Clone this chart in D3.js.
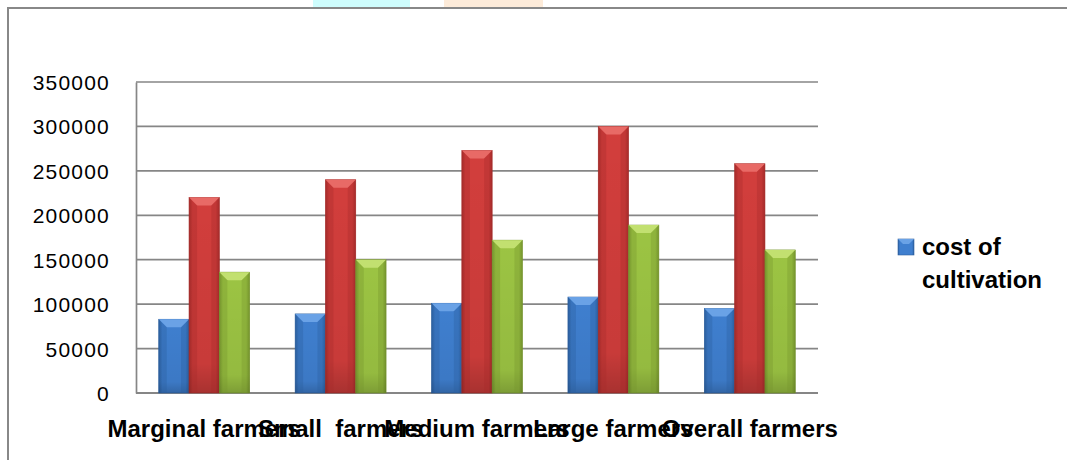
<!DOCTYPE html>
<html>
<head>
  <meta charset="UTF-8">
  <title>Cost of cultivation by farmer group</title>
  <script src="https://d3js.org/d3.v7.min.js"></script>
  <style>
    body {
      margin: 0;
      padding: 0;
      background-color: #ffffff;
    }
    svg text {
      font-family: 'Liberation Sans', Arial, sans-serif;
      fill: #000;
    }
    .y-axis text {
      font-size: 21px;
      letter-spacing: 1.2px;
    }
    .x-label {
      font-size: 24px;
      font-weight: bold;
    }
    .legend text {
      font-size: 24px;
      font-weight: bold;
    }
  </style>
</head>
<body>
  <svg id="chart"></svg>
  <script>
    const categories = ["Marginal farmers", "Small  farmers", "Medium farmers", "Large farmers", "Overall farmers"];
    const seriesNames = ["cost of cultivation", "gross returns", "net returns"];
    const costValues = [83000, 89000, 101000, 108000, 95000];
    const grossValues = [220000, 240000, 273000, 300000, 258000];
    const netValues = [136000, 150000, 172000, 189000, 161000];
    const yTicks = [0, 50000, 100000, 150000, 200000, 250000, 300000, 350000];

    const W = 1067, H = 460;
    const plot = { left: 136, right: 818, top: 82, bottom: 393 };

    const svg = d3.select("#chart")
      .attr("width", W)
      .attr("height", H);

    // colour definitions: base, light, dark for each series
    const palette = [
      { base: "#3f7fcf", light: "#6aa2e6", dark: "#2c5f9e" },
      { base: "#d23e3c", light: "#e86a66", dark: "#a52c2a" },
      { base: "#9cc443", light: "#c2e070", dark: "#76952e" }
    ];

    const defs = svg.append("defs");
    palette.forEach(function(p, i) {
      const g = defs.append("linearGradient")
        .attr("id", "grad" + i)
        .attr("x1", "0").attr("x2", "1").attr("y1", "0").attr("y2", "0");
      g.append("stop").attr("offset", "0%").attr("stop-color", p.dark);
      g.append("stop").attr("offset", "12%").attr("stop-color", p.base);
      g.append("stop").attr("offset", "50%").attr("stop-color", p.base);
      g.append("stop").attr("offset", "88%").attr("stop-color", p.base);
      g.append("stop").attr("offset", "100%").attr("stop-color", p.dark);
      const v = defs.append("linearGradient")
        .attr("id", "shade" + i)
        .attr("x1", "0").attr("x2", "0").attr("y1", "0").attr("y2", "1");
      v.append("stop").attr("offset", "0%").attr("stop-color", "#000").attr("stop-opacity", 0);
      v.append("stop").attr("offset", "85%").attr("stop-color", "#000").attr("stop-opacity", 0.05);
      v.append("stop").attr("offset", "100%").attr("stop-color", "#000").attr("stop-opacity", 0.2);
    });

    // faint artefacts along the top edge of the source picture
    svg.append("rect").attr("x", 313).attr("y", 0).attr("width", 97).attr("height", 7).attr("fill", "#cefdfd");
    svg.append("rect").attr("x", 444).attr("y", 0).attr("width", 99).attr("height", 7).attr("fill", "#fdebd9");

    // chart frame
    svg.append("rect")
      .attr("x", 8).attr("y", 8)
      .attr("width", W + 20).attr("height", H + 20)
      .attr("fill", "none")
      .attr("stroke", "#888")
      .attr("stroke-width", 2);

    const y = d3.scaleLinear()
      .domain([0, 350000])
      .range([plot.bottom, plot.top]);

    const x0 = d3.scaleBand()
      .domain(categories)
      .range([plot.left, plot.right])
      .padding(0);

    const x1 = d3.scaleBand()
      .domain(seriesNames)
      .range([0, x0.bandwidth()])
      .paddingInner(0)
      .paddingOuter(0.75);

    // gridlines
    svg.append("g")
      .selectAll("line")
      .data(yTicks)
      .join("line")
      .attr("x1", plot.left)
      .attr("x2", plot.right)
      .attr("y1", d => y(d))
      .attr("y2", d => y(d))
      .attr("stroke", "#868686")
      .attr("stroke-width", d => d === 0 ? 2.2 : 1.7);

    // left axis
    const yAxis = svg.append("g")
      .attr("class", "y-axis")
      .attr("transform", `translate(${plot.left},0)`)
      .call(d3.axisLeft(y).tickValues(yTicks).tickSize(0).tickPadding(26).tickFormat(d3.format("d")));
    yAxis.select(".domain").attr("stroke", "#868686").attr("stroke-width", 1.7);
    yAxis.selectAll("text").attr("dy", "0.36em");

    const rows = categories.map(function(c, i) {
      return { cat: c, vals: [costValues[i], grossValues[i], netValues[i]] };
    });

    const groups = svg.append("g")
      .selectAll("g")
      .data(rows)
      .join("g")
      .attr("transform", d => `translate(${x0(d.cat)},0)`);

    const bw = x1.bandwidth();
    const bevel = 8;

    groups.each(function(row) {
      const g = d3.select(this);
      row.vals.forEach(function(v, i) {
        const bx = x1(seriesNames[i]);
        const top = y(v);
        const h = y(0) - top;
        g.append("rect")
          .attr("x", bx).attr("y", top)
          .attr("width", bw).attr("height", h)
          .attr("fill", `url(#grad${i})`)
          .attr("stroke", palette[i].dark)
          .attr("stroke-width", 0.6);
        g.append("rect")
          .attr("x", bx).attr("y", top)
          .attr("width", bw).attr("height", h)
          .attr("fill", `url(#shade${i})`);
        // bevel on top of the bar
        g.append("path")
          .attr("d", `M${bx},${top} L${bx + bw},${top} L${bx + bw - bevel},${top + bevel} L${bx + bevel},${top + bevel} Z`)
          .attr("fill", palette[i].light);
        g.append("path")
          .attr("d", `M${bx},${top} L${bx + bevel},${top + bevel} L${bx + bevel},${y(0)} L${bx},${y(0)} Z`)
          .attr("fill", palette[i].dark)
          .attr("opacity", 0.35);
        g.append("path")
          .attr("d", `M${bx + bw},${top} L${bx + bw - bevel},${top + bevel} L${bx + bw - bevel},${y(0)} L${bx + bw},${y(0)} Z`)
          .attr("fill", palette[i].dark)
          .attr("opacity", 0.35);
      });
    });

    // category labels (they overlap in the source too)
    svg.append("g")
      .selectAll("text")
      .data(categories)
      .join("text")
      .attr("class", "x-label")
      .attr("x", d => x0(d) + x0.bandwidth() / 2)
      .attr("y", 437)
      .attr("text-anchor", "middle")
      .style("white-space", "pre")
      .attr("xml:space", "preserve")
      .text(d => d);

    // legend: only the first series is shown in the source
    const legend = svg.append("g").attr("class", "legend");
    const lx = 898, ly = 239, ls = 16;
    legend.append("rect")
      .attr("x", lx).attr("y", ly).attr("width", ls).attr("height", ls)
      .attr("fill", `url(#grad0)`)
      .attr("stroke", palette[0].dark).attr("stroke-width", 0.6);
    legend.append("path")
      .attr("d", `M${lx},${ly} L${lx + ls},${ly} L${lx + ls - 5},${ly + 5} L${lx + 5},${ly + 5} Z`)
      .attr("fill", palette[0].light);
    const words = ["cost of", "cultivation"];
    legend.selectAll("text")
      .data(words)
      .join("text")
      .attr("x", 922)
      .attr("y", (d, i) => 255 + i * 33)
      .text(d => d);
  </script>
</body>
</html>
